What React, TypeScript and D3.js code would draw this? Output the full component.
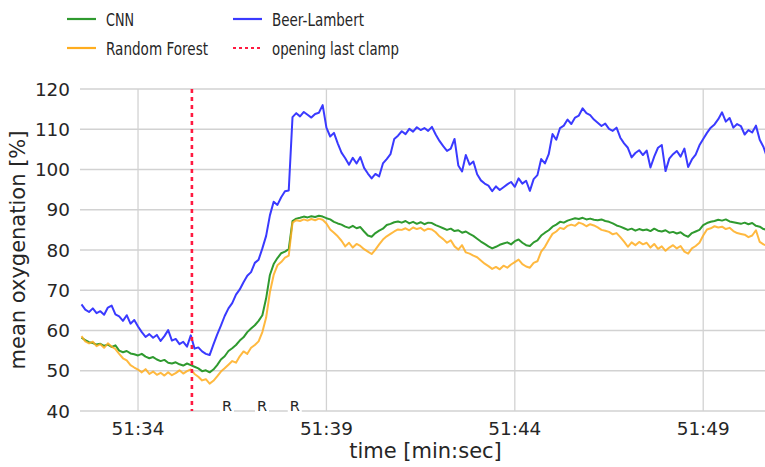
import React from 'react';
import * as d3 from 'd3';

// time in seconds after 51:00, sampled every 0.1 s starting at 32.5 s
const T0 = 32.5;
const DT = 0.1;

const beerLambert = [
  66.5, 65.2, 64.6, 65.5, 64.3,
  64.8, 63.9, 65.7, 66.2, 64.0, 63.5, 62.4, 63.8, 61.7, 62.6,
  61.0, 59.6, 58.4, 59.1, 58.2, 58.9, 57.4, 58.6, 60.1, 57.5,
  57.9, 56.6, 57.2, 56.0, 58.8, 55.5, 55.8, 54.8, 54.2, 53.9,
  56.5, 59.0, 61.2, 63.6, 65.5, 66.8, 68.9, 70.2, 72.0, 73.6,
  74.5, 76.8, 77.6, 80.4, 83.5, 88.6, 92.0, 91.2, 93.1, 94.6,
  94.8, 113.0, 114.0, 113.2, 114.3, 113.6, 112.9, 113.8, 114.1, 116.0,
  110.4, 108.2, 109.1, 106.5, 104.2, 102.8, 101.2, 102.9, 101.5, 103.1,
  100.4, 99.0, 97.8, 98.9, 98.3, 101.5, 102.6, 103.8, 107.6, 108.4,
  109.5, 108.8, 110.1, 109.4, 110.5, 109.8, 110.3, 109.6, 110.6, 108.7,
  107.1, 105.8, 104.6, 105.2, 107.6, 101.0, 99.5, 103.6, 101.2, 102.0,
  98.8, 97.3, 96.5, 96.0, 94.6, 95.8, 94.9, 95.6, 96.3, 96.9,
  95.7, 97.8, 96.5, 97.2, 94.7, 97.6, 98.6, 102.6, 101.5, 103.8,
  108.8, 107.4, 110.3, 110.9, 112.4, 111.3, 112.9, 113.4, 115.2, 114.0,
  113.5, 112.4, 111.6, 110.8, 111.4, 110.1, 109.6, 110.4, 107.9, 106.5,
  105.4, 103.0, 104.1, 104.8, 103.6, 104.7, 100.5, 103.2, 105.4, 106.1,
  99.6, 102.7, 103.8, 104.6, 103.2, 105.2, 100.6, 102.5, 103.7, 106.0,
  107.6, 109.1, 110.4, 111.2, 112.5, 114.2, 111.9, 112.8, 110.4, 111.3,
  110.8, 108.7, 109.8, 109.2, 110.9, 107.4, 105.6, 102.8,
];

const cnn = [
  58.2, 57.6, 57.1, 56.9, 56.5,
  56.7, 56.2, 56.5, 55.9, 56.3, 55.0, 54.6, 54.9, 54.3, 54.1,
  53.8, 54.2, 53.5, 53.1, 53.4, 52.8, 52.4, 52.7, 52.0, 51.8,
  52.1, 51.6, 51.3, 51.8, 51.4, 51.0, 50.6, 49.9, 50.1, 49.6,
  50.3, 51.4, 52.8, 53.6, 54.9, 55.6, 56.4, 57.5, 58.3, 59.6,
  60.5, 61.3, 62.4, 63.8, 68.0, 73.8, 76.5, 78.0, 79.2, 79.6,
  80.2, 87.2, 87.8, 88.0, 88.3, 88.1, 88.4, 88.2, 88.5, 88.3,
  87.9, 87.6, 87.0, 86.6, 86.3, 85.8, 85.5, 86.0, 85.4, 85.7,
  84.6, 83.6, 83.3, 84.2, 84.8, 85.3, 86.2, 86.5, 86.9, 87.1,
  86.8, 87.2, 86.6, 87.0, 86.5, 86.9, 86.4, 86.8, 86.7, 86.2,
  85.8, 85.4, 85.0, 85.3, 84.7, 84.9, 84.3, 84.6, 84.0, 83.5,
  82.8, 82.1, 81.5, 80.9, 80.4, 80.8, 81.3, 81.6, 81.9, 81.4,
  82.2, 82.6, 81.8, 81.2, 81.0, 81.9, 82.4, 83.6, 84.3, 84.9,
  85.8, 86.3, 87.0, 86.8, 87.3, 87.6, 87.9, 87.7, 88.0, 87.6,
  87.8, 87.5, 87.4, 87.6, 87.2, 87.0, 86.6, 86.1, 85.8, 85.4,
  85.0, 85.3, 84.8, 85.2, 84.9, 85.1, 84.7, 85.3, 84.8, 84.6,
  84.9, 84.3, 84.5, 84.1, 84.4, 83.7, 83.3, 84.2, 84.6, 85.0,
  86.2, 86.7, 87.0, 87.2, 87.5, 87.3, 87.6, 87.1, 86.9, 86.7,
  86.5, 86.8, 86.4, 86.7, 86.0, 85.8, 85.2, 85.0,
];

const randomForest = [
  58.6, 57.3, 56.8, 57.2, 56.1,
  56.6, 55.7, 56.8, 56.0, 55.4, 54.2, 53.1, 52.6, 51.4, 50.8,
  50.3, 49.6, 50.4, 49.2, 49.8, 49.0, 49.5, 48.8, 49.6, 48.9,
  49.4, 50.1, 49.3, 49.9, 50.3, 49.2, 48.5, 47.6, 47.9, 46.8,
  47.5, 48.6, 49.8, 50.6, 51.5, 52.4, 52.0, 53.6, 54.8, 54.2,
  55.7, 56.4, 57.3, 59.6, 63.2, 69.5, 73.8, 76.2, 77.0, 78.1,
  78.6, 86.8, 87.4, 87.2, 87.6, 87.3, 87.7, 87.4, 87.8, 87.5,
  86.6, 85.1, 84.3, 83.4, 82.3, 80.9, 81.8, 80.6, 81.5, 81.0,
  80.2, 79.6, 79.0, 80.1, 81.4, 82.6, 83.4, 84.0, 84.6, 85.1,
  85.0, 85.4, 84.9, 85.6, 85.2, 85.5, 84.8, 85.3, 85.1, 84.4,
  83.4, 82.7, 81.8, 82.4, 80.9, 80.1, 81.2, 79.4, 79.1, 78.6,
  78.2, 77.4, 76.6, 76.0, 75.3, 75.8, 75.2, 76.1, 75.6, 76.4,
  77.0, 77.6, 76.5, 75.9, 75.6, 76.8, 77.2, 79.6, 80.8, 82.5,
  84.0, 84.6, 85.5, 85.2, 86.0, 86.3, 86.0, 86.8, 86.5, 85.9,
  86.4, 86.1, 85.6, 85.0, 84.8, 84.5, 83.9, 84.2, 83.2, 82.1,
  80.8, 81.9, 81.2, 82.0, 81.4, 81.8, 80.6, 81.5, 80.3, 80.9,
  79.8, 80.6, 81.2, 80.4, 81.0, 79.6, 79.1, 80.4, 81.0, 81.8,
  83.6, 85.1, 85.4, 85.9, 85.6, 85.8, 85.2, 85.5, 84.7, 84.2,
  84.0, 83.8, 83.2, 83.6, 84.9, 82.0, 81.4, 81.0,
];

const xTicks = [34, 39, 44, 49];
const xTickLabels = ['51:34', '51:39', '51:44', '51:49'];
const yTicks = [40, 50, 60, 70, 80, 90, 100, 110, 120];
const clampTime = 35.43;
const rTimes = [36.36, 37.29, 38.16];
const rLabel = 'R';

const COLORS = { cnn: '#2f9a2f', rf: '#ffad1f', bl: '#3a3aff', clamp: '#ff1a40' };

const legendItems = [
  { label: 'CNN', color: COLORS.cnn, dash: null, col: 0, row: 0, len: 28 },
  { label: 'Random Forest', color: COLORS.rf, dash: null, col: 0, row: 1, len: 102 },
  { label: 'Beer-Lambert', color: COLORS.bl, dash: null, col: 1, row: 0, len: 92 },
  { label: 'opening last clamp', color: COLORS.clamp, dash: '3,3', col: 1, row: 1, len: 127 },
];

const W = 765;
const H = 467;
const M = { left: 80, right: 765, top: 89, bottom: 411 };
const FONT = '"DejaVu Sans", sans-serif';

export default function App() {
  const x = d3.scaleLinear().domain([32.46, 50.64]).range([M.left, M.right]);
  const y = d3.scaleLinear().domain([40, 120]).range([M.bottom, M.top]);
  const line = d3
    .line<number>()
    .x((_, i) => x(T0 + i * DT))
    .y((v) => y(v));

  const grid = '#d2d2d2';
  const textCol = '#262626';

  return (
    <svg
      width={W}
      height={H}
      style={{ position: 'absolute', left: 0, top: 0, background: '#fff', fontFamily: FONT }}
    >
      <defs>
        <clipPath id="plot">
          <rect x={M.left} y={M.top - 10} width={M.right - M.left} height={M.bottom - M.top + 10} />
        </clipPath>
      </defs>
      <rect x={0} y={0} width={W} height={H} fill="#fff" />

      {/* grid */}
      {yTicks.map((t) => (
        <line key={'gy' + t} x1={M.left} x2={M.right} y1={y(t)} y2={y(t)} stroke={grid} strokeWidth={1.3} />
      ))}
      {xTicks.map((t) => (
        <line key={'gx' + t} x1={x(t)} x2={x(t)} y1={M.top} y2={M.bottom} stroke={grid} strokeWidth={1.3} />
      ))}

      {/* tick labels */}
      {yTicks.map((t) => (
        <text key={'ty' + t} x={70} y={y(t)} dy="0.36em" textAnchor="end" fontSize={18.4} fill={textCol}>
          {t}
        </text>
      ))}
      {xTicks.map((t, i) => (
        <text key={'tx' + t} x={x(t)} y={435} textAnchor="middle" fontSize={18.4} fill={textCol}>
          {xTickLabels[i]}
        </text>
      ))}

      {/* axis labels */}
      <text x={(M.left + M.right) / 2 + 3} y={458} textAnchor="middle" fontSize={21} fill={textCol}>
        time [min:sec]
      </text>
      <text
        transform={`translate(25, ${(M.top + M.bottom) / 2}) rotate(-90)`}
        textAnchor="middle"
        fontSize={21}
        fill={textCol}
      >
        mean oxygenation [%]
      </text>

      {/* series */}
      <g clipPath="url(#plot)" fill="none" strokeLinejoin="round">
        <path d={line(cnn) || ''} stroke={COLORS.cnn} strokeWidth={2} />
        <path d={line(randomForest) || ''} stroke={COLORS.rf} strokeWidth={2} strokeOpacity={0.85} />
        <path d={line(beerLambert) || ''} stroke={COLORS.bl} strokeWidth={2} />
        <line
          x1={x(clampTime)}
          x2={x(clampTime)}
          y1={M.top}
          y2={M.bottom}
          stroke={COLORS.clamp}
          strokeWidth={2.6}
          strokeDasharray="4,4"
        />
      </g>

      {/* R markers */}
      {rTimes.map((t, i) => (
        <g key={'r' + i}>
          <rect x={x(t) - 7} y={399} width={14} height={16} fill="#fff" />
          <text x={x(t)} y={411} textAnchor="middle" fontSize={14.5} fill={textCol}>
            {rLabel}
          </text>
        </g>
      ))}

      {/* legend */}
      {legendItems.map((it) => {
        const lx = it.col === 0 ? 67 : 233;
        const ly = it.row === 0 ? 19 : 48;
        return (
          <g key={it.label}>
            <line
              x1={lx}
              x2={lx + 29}
              y1={ly}
              y2={ly}
              stroke={it.color}
              strokeWidth={2.2}
              strokeDasharray={it.dash || undefined}
            />
            <text
              x={lx + 39}
              y={ly + 6.5}
              fontSize={18}
              fill={textCol}
              textLength={it.len}
              lengthAdjust="spacingAndGlyphs"
            >
              {it.label}
            </text>
          </g>
        );
      })}
    </svg>
  );
}
